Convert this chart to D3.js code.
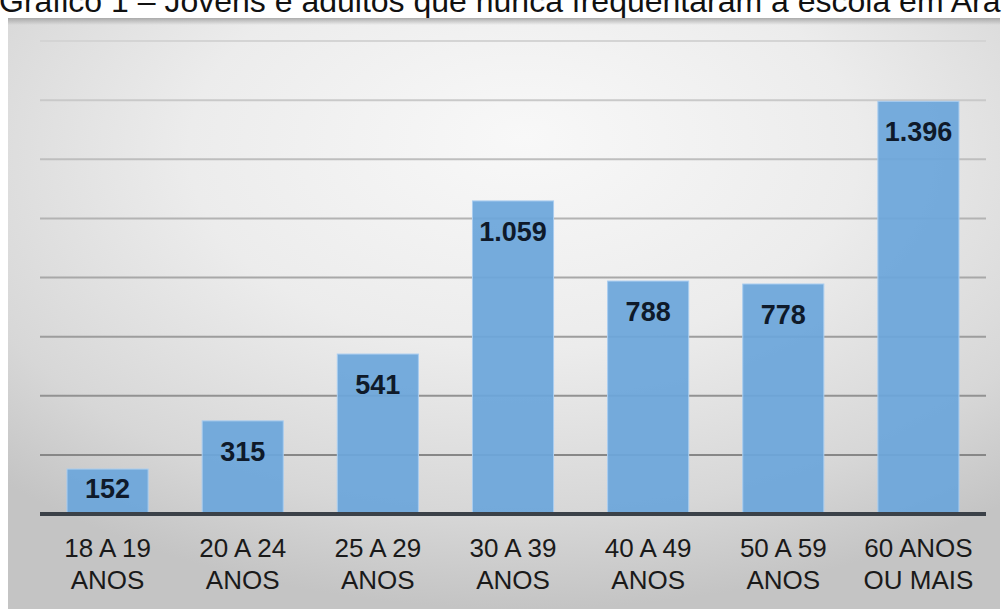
<!DOCTYPE html>
<html>
<head>
<meta charset="utf-8">
<script src="https://cdn.jsdelivr.net/npm/d3@7"></script>
<style>
  html, body { margin: 0; padding: 0; background: #fff; overflow: hidden; }
  svg { display: block; }
</style>
</head>
<body>
<svg id="chart" width="1007" height="609"></svg>
<script>
// Age groups (two-line labels) and people who never attended school
const categories = [
  ["18 A 19", "ANOS"],
  ["20 A 24", "ANOS"],
  ["25 A 29", "ANOS"],
  ["30 A 39", "ANOS"],
  ["40 A 49", "ANOS"],
  ["50 A 59", "ANOS"],
  ["60 ANOS", "OU MAIS"]
];
const values = [152, 315, 541, 1059, 788, 778, 1396];
const valueLabels = ["152", "315", "541", "1.059", "788", "778", "1.396"];
const gridTicks = [0, 200, 400, 600, 800, 1000, 1200, 1400, 1600];
const title = "Gráfico 1 – Jovens e adultos que nunca frequentaram a escola em Ara";

const svg = d3.select("#chart");

const defs = svg.append("defs");
const bg = defs.append("radialGradient")
  .attr("id", "panelBg")
  .attr("cx", "52%").attr("cy", "25%").attr("r", "75%")
  .attr("fx", "52%").attr("fy", "20%");
bg.append("stop").attr("offset", "0%").attr("stop-color", "#f8f8f8");
bg.append("stop").attr("offset", "45%").attr("stop-color", "#ececec");
bg.append("stop").attr("offset", "80%").attr("stop-color", "#d7d7d7");
bg.append("stop").attr("offset", "100%").attr("stop-color", "#c4c4c4");

const topShade = defs.append("linearGradient")
  .attr("id", "topShade").attr("x1", 0).attr("y1", 0).attr("x2", 0).attr("y2", 1);
topShade.append("stop").attr("offset", "0%").attr("stop-color", "#a0a0a0").attr("stop-opacity", 0.85);
topShade.append("stop").attr("offset", "100%").attr("stop-color", "#a0a0a0").attr("stop-opacity", 0);

// Title (runs past the top and right edges)
svg.append("text")
  .attr("x", -1).attr("y", 12)
  .attr("font-family", "Liberation Sans, Arial, sans-serif")
  .attr("font-size", 32)
  .attr("fill", "#111")
  .text(title);

// Chart panel
const panel = { x: 8, y: 18, w: 992, h: 591 };
svg.append("rect")
  .attr("x", panel.x).attr("y", panel.y)
  .attr("width", panel.w).attr("height", panel.h)
  .attr("fill", "url(#panelBg)");
svg.append("rect")
  .attr("x", panel.x).attr("y", panel.y)
  .attr("width", panel.w).attr("height", 7)
  .attr("fill", "url(#topShade)");

// Scales
const x = d3.scaleBand()
  .domain(d3.range(categories.length))
  .range([40, 986])
  .paddingInner(0.4)
  .paddingOuter(0.2);
const y = d3.scaleLinear().domain([0, 1600]).range([514, 41]);

// Gridlines, lighter toward the top
const gridColor = d3.scaleLinear().domain([1600, 0]).range(["#d4d4d4", "#7c7c7c"]);
svg.append("g").selectAll("line")
  .data(gridTicks.filter(d => d > 0))
  .join("line")
  .attr("x1", 40).attr("x2", 986)
  .attr("y1", d => y(d)).attr("y2", d => y(d))
  .attr("stroke", d => gridColor(d))
  .attr("stroke-width", 2);

// Bars
svg.append("g").selectAll("rect")
  .data(values)
  .join("rect")
  .attr("x", (d, i) => x(i))
  .attr("y", d => y(d))
  .attr("width", x.bandwidth())
  .attr("height", d => y(0) - y(d))
  .attr("fill", "#6ca6da")
  .attr("fill-opacity", 0.93)
  .attr("stroke", "#a9cdf0")
  .attr("stroke-width", 1);

// Baseline axis
svg.append("line")
  .attr("x1", 40).attr("x2", 986)
  .attr("y1", y(0)).attr("y2", y(0))
  .attr("stroke", "#3b4148")
  .attr("stroke-width", 4);

// Value labels inside the top of each bar
svg.append("g").selectAll("text")
  .data(values)
  .join("text")
  .attr("x", (d, i) => x(i) + x.bandwidth() / 2)
  .attr("y", d => Math.min(y(d) + 40, y(0) - 16))
  .attr("text-anchor", "middle")
  .attr("font-family", "Liberation Sans, Arial, sans-serif")
  .attr("font-weight", "bold")
  .attr("font-size", 27)
  .attr("fill", "#0f1a2a")
  .text((d, i) => valueLabels[i]);

// Category labels
const cat = svg.append("g").selectAll("text")
  .data(categories)
  .join("text")
  .attr("text-anchor", "middle")
  .attr("font-family", "Liberation Sans, Arial, sans-serif")
  .attr("font-size", 26)
  .attr("fill", "#1a1a1a");
cat.selectAll("tspan")
  .data((d, i) => d.map(t => ({ t, i })))
  .join("tspan")
  .attr("x", d => x(d.i) + x.bandwidth() / 2)
  .attr("y", (d, j) => 557 + j * 32)
  .text(d => d.t);
</script>
</body>
</html>
